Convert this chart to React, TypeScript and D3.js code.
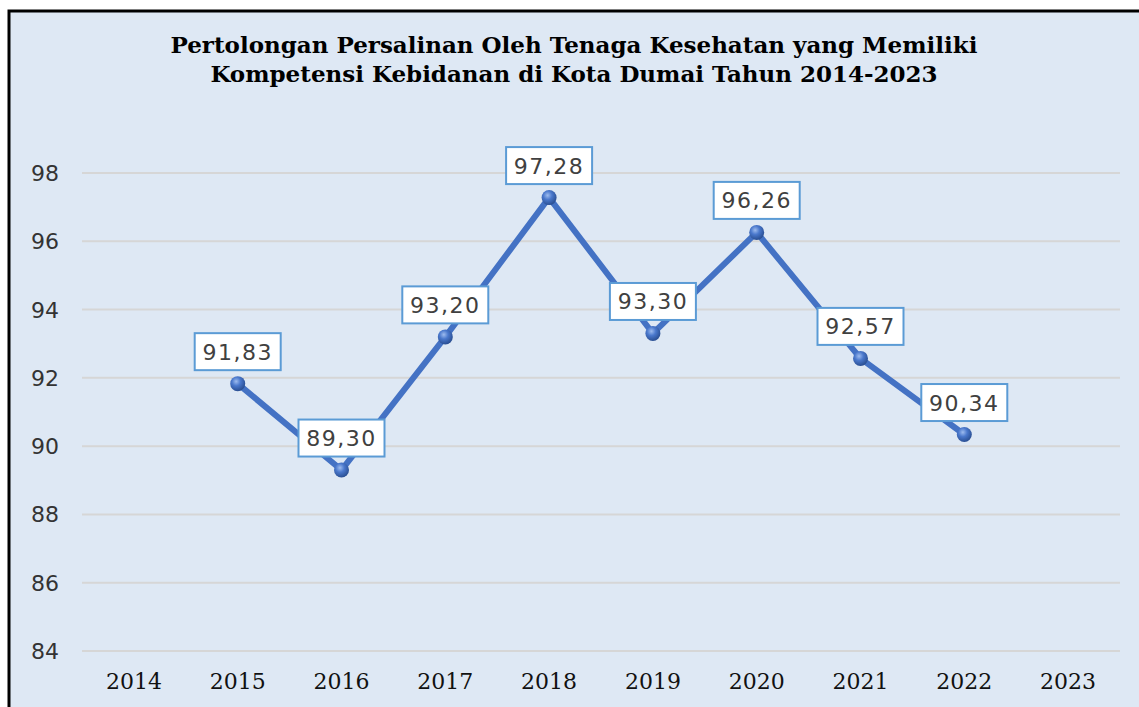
import React from "react";
import * as d3 from "d3";

const years = ["2014", "2015", "2016", "2017", "2018", "2019", "2020", "2021", "2022", "2023"];
const values: (number | null)[] = [null, 91.83, 89.3, 93.2, 97.28, 93.3, 96.26, 92.57, 90.34, null];
const yTicks = [84, 86, 88, 90, 92, 94, 96, 98];
const titleLines = [
  "Pertolongan Persalinan Oleh Tenaga Kesehatan yang Memiliki",
  "Kompetensi Kebidanan di Kota Dumai Tahun 2014-2023",
];

const W = 1139;
const H = 707;
const plot = { left: 82, right: 1120, top: 173, bottom: 651 };

const fmt = (v: number) => v.toFixed(2).replace(".", ",");

export default function App() {
  const x = d3.scaleBand<string>().domain(years).range([plot.left, plot.right]);
  const y = d3.scaleLinear().domain([84, 98]).range([plot.bottom, plot.top]);
  const cx = (yr: string) => (x(yr) ?? 0) + x.bandwidth() / 2;

  const pts = years
    .map((yr, i) => ({ yr, v: values[i] }))
    .filter((d): d is { yr: string; v: number } => d.v !== null);

  const line = d3
    .line<{ yr: string; v: number }>()
    .x((d) => cx(d.yr))
    .y((d) => y(d.v));

  const boxW = 86;
  const boxH = 37;

  return (
    <svg
      width={W}
      height={H}
      style={{ position: "absolute", left: 0, top: 0, display: "block" }}
    >
      <defs>
        <radialGradient id="ball" cx="40%" cy="35%" r="65%">
          <stop offset="0%" stopColor="#9DBBEE" />
          <stop offset="45%" stopColor="#4A78CC" />
          <stop offset="100%" stopColor="#2A4F93" />
        </radialGradient>
      </defs>
      <rect x={0} y={0} width={W} height={H} fill="#ffffff" />
      <rect x={9} y={11} width={W + 10} height={H + 10} fill="#DEE8F4" stroke="#000" strokeWidth={3} />

      {titleLines.map((t, i) => (
        <text
          key={i}
          x={574}
          y={53 + i * 29}
          textAnchor="middle"
          fontFamily="'DejaVu Serif', serif"
          fontWeight="bold"
          fontSize={23}
          fill="#000"
        >
          {t}
        </text>
      ))}

      {yTicks.map((t) => (
        <g key={t}>
          <line x1={plot.left} x2={plot.right} y1={y(t)} y2={y(t)} stroke="#D6D6D6" strokeWidth={2} />
          <text
            x={59}
            y={y(t) + 8}
            textAnchor="end"
            fontFamily="'DejaVu Sans', sans-serif"
            fontSize={22}
            fill="#333"
          >
            {t}
          </text>
        </g>
      ))}

      {years.map((yr) => (
        <text
          key={yr}
          x={cx(yr)}
          y={689}
          textAnchor="middle"
          fontFamily="'DejaVu Serif', serif"
          fontSize={22}
          fill="#111"
        >
          {yr}
        </text>
      ))}

      <path d={line(pts) ?? ""} fill="none" stroke="#4472C4" strokeWidth={6} strokeLinejoin="round" />

      {pts.map((d) => (
        <circle key={d.yr} cx={cx(d.yr)} cy={y(d.v)} r={7.5} fill="url(#ball)" />
      ))}

      {pts.map((d) => {
        const bx = cx(d.yr);
        const by = y(d.v) - 32;
        return (
          <g key={"lbl" + d.yr}>
            <rect
              x={bx - boxW / 2}
              y={by - boxH / 2}
              width={boxW}
              height={boxH}
              fill="#fff"
              stroke="#5B9BD5"
              strokeWidth={2}
            />
            <text
              x={bx}
              y={by + 8}
              textAnchor="middle"
              fontFamily="'DejaVu Sans', sans-serif"
              fontSize={22}
              letterSpacing={1.5}
              fill="#404040"
            >
              {fmt(d.v)}
            </text>
          </g>
        );
      })}
    </svg>
  );
}
